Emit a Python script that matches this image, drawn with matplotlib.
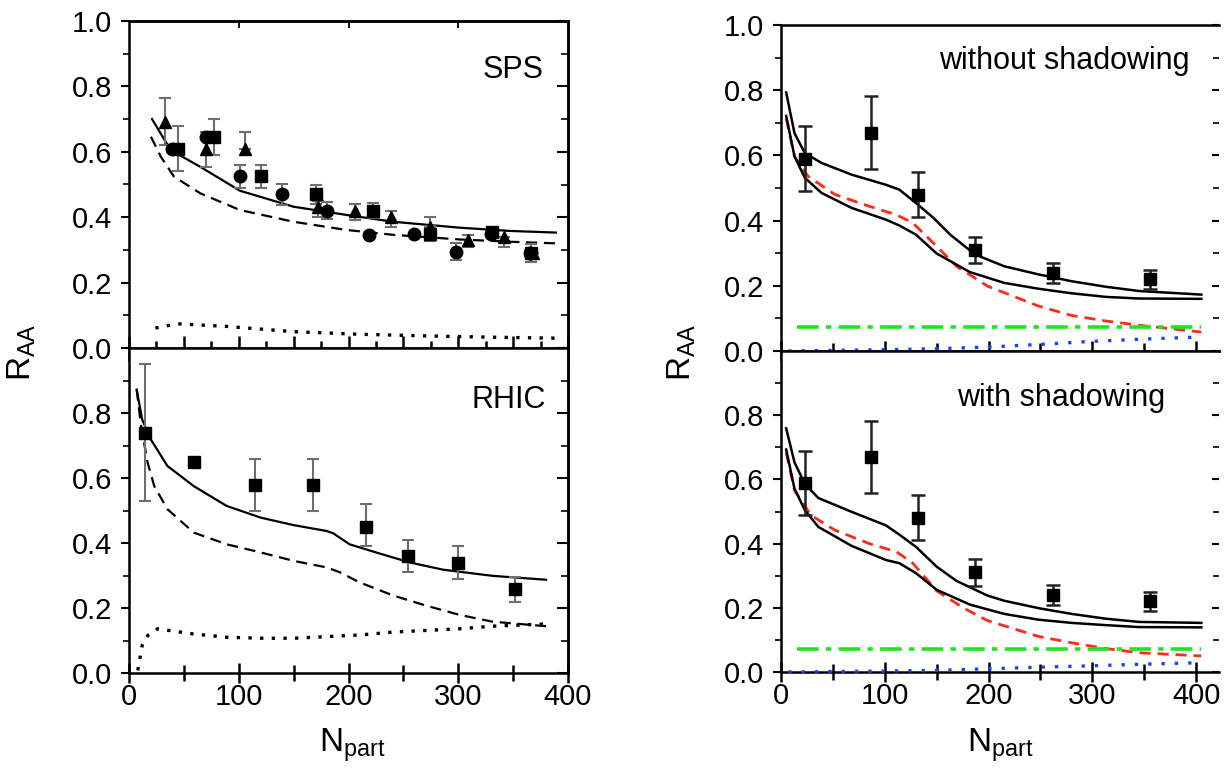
import matplotlib
matplotlib.use('Agg')
import matplotlib.pyplot as plt
from matplotlib.ticker import MultipleLocator, FixedLocator, NullFormatter

plt.rcParams['font.family'] = ['Liberation Sans', 'DejaVu Sans']
plt.rcParams['mathtext.fontset'] = 'custom'
plt.rcParams['mathtext.rm'] = 'Liberation Sans'
plt.rcParams['mathtext.it'] = 'Liberation Sans'

# ---------------- SPS data (top left) ----------------
sps_tri_x = [33, 70, 106, 172, 206, 239, 274, 309, 342, 368]
sps_tri_y = [0.69, 0.61, 0.61, 0.43, 0.42, 0.40, 0.37, 0.33, 0.34, 0.29]
sps_tri_lo = [0.07, 0.055, 0.0, 0.03, 0.03, 0.03, 0.0, 0.02, 0.03, 0.0]
sps_tri_hi = [0.075, 0.05, 0.05, 0.02, 0.02, 0.02, 0.03, 0.015, 0.0, 0.0]

sps_circ_x = [39, 70, 101, 139, 180, 219, 260, 298, 330, 365]
sps_circ_y = [0.61, 0.645, 0.525, 0.47, 0.42, 0.345, 0.35, 0.295, 0.35, 0.29]
sps_circ_err = [0.0, 0.0, 0.035, 0.033, 0.025, 0.0, 0.0, 0.027, 0.0, 0.0]

sps_sq_x = [45, 77, 120, 170, 222, 274, 331, 366]
sps_sq_y = [0.61, 0.645, 0.525, 0.47, 0.42, 0.35, 0.355, 0.29]
sps_sq_err = [0.068, 0.055, 0.035, 0.03, 0.023, 0.022, 0.0, 0.028]

sps_full_x = [21, 38, 65, 101, 150, 198, 241, 301, 347, 389]
sps_full_y = [0.70, 0.605, 0.554, 0.481, 0.432, 0.407, 0.386, 0.368, 0.358, 0.353]
sps_dash_x = [20, 29, 41, 65, 101, 150, 198, 241, 301, 347, 389]
sps_dash_y = [0.646, 0.585, 0.524, 0.473, 0.422, 0.386, 0.361, 0.346, 0.332, 0.325, 0.32]
sps_dot_x = [24, 44, 89, 150, 210, 271, 331, 389]
sps_dot_y = [0.061, 0.074, 0.066, 0.05, 0.042, 0.037, 0.033, 0.03]

# ---------------- RHIC data (bottom left) ----------------
rhic_x = [15, 59, 115, 168, 216, 254, 300, 352]
rhic_y = [0.74, 0.65, 0.58, 0.58, 0.45, 0.36, 0.34, 0.26]
rhic_lo = [0.21, 0.01, 0.08, 0.08, 0.06, 0.05, 0.05, 0.04]
rhic_hi = [0.21, 0.01, 0.08, 0.08, 0.07, 0.05, 0.05, 0.035]

rhic_full_x = [7, 12, 20, 35, 59, 89, 120, 150, 180, 186, 201, 225, 256, 286, 331, 380]
rhic_full_y = [0.872, 0.78, 0.718, 0.637, 0.575, 0.514, 0.478, 0.455, 0.437, 0.43,
               0.396, 0.371, 0.34, 0.318, 0.299, 0.287]
rhic_dash_x = [7, 11, 17, 23, 35, 59, 89, 120, 150, 180, 192, 210, 241, 271, 301, 331, 380]
rhic_dash_y = [0.872, 0.759, 0.647, 0.575, 0.504, 0.432, 0.396, 0.371, 0.345, 0.325,
               0.31, 0.279, 0.238, 0.207, 0.179, 0.158, 0.144]
rhic_dot_x = [8, 12, 17, 26, 59, 89, 120, 150, 180, 210, 241, 271, 301, 331, 380]
rhic_dot_y = [0.008, 0.085, 0.115, 0.136, 0.12, 0.11, 0.107, 0.107, 0.112, 0.117,
              0.126, 0.131, 0.136, 0.144, 0.151]

# ---------------- right panels: data (same in both) ----------------
phenix_x = [23, 87, 132, 187, 262, 356]
phenix_y = [0.59, 0.67, 0.48, 0.31, 0.24, 0.22]
phenix_err = [0.10, 0.112, 0.07, 0.041, 0.03, 0.03]

# without shadowing
ns_up_x = [5, 13, 23, 39, 68, 101, 114, 130, 147, 163, 187, 215, 248, 280, 313, 345, 405]
ns_up_y = [0.793, 0.668, 0.607, 0.577, 0.541, 0.51, 0.495, 0.454, 0.408, 0.357, 0.296,
           0.26, 0.235, 0.214, 0.197, 0.184, 0.173]
ns_lo_x = [5, 13, 23, 39, 68, 101, 114, 130, 150, 182, 215, 248, 280, 313, 345, 405]
ns_lo_y = [0.721, 0.597, 0.531, 0.485, 0.439, 0.403, 0.385, 0.357, 0.299, 0.242, 0.209,
           0.191, 0.177, 0.166, 0.161, 0.16]
ns_red_x = [5, 13, 26, 52, 85, 111, 127, 150, 169, 199, 248, 280, 313, 345, 405]
ns_red_y = [0.714, 0.597, 0.536, 0.48, 0.444, 0.418, 0.393, 0.321, 0.26, 0.199, 0.138,
            0.109, 0.092, 0.079, 0.058]
ns_green_x = [15, 405]
ns_green_y = [0.074, 0.074]
ns_blue_x = [7, 101, 150, 199, 248, 296, 345, 405]
ns_blue_y = [0.0, 0.004, 0.007, 0.012, 0.02, 0.029, 0.036, 0.043]

# with shadowing
ws_up_x = [5, 13, 23, 36, 68, 101, 114, 130, 150, 169, 199, 215, 248, 280, 313, 345, 405]
ws_up_y = [0.759, 0.653, 0.586, 0.542, 0.499, 0.457, 0.428, 0.39, 0.328, 0.284, 0.238,
           0.222, 0.199, 0.181, 0.166, 0.156, 0.153]
ws_lo_x = [5, 13, 23, 36, 68, 101, 114, 130, 150, 182, 215, 248, 280, 313, 345, 405]
ws_lo_y = [0.693, 0.571, 0.504, 0.452, 0.393, 0.349, 0.339, 0.308, 0.256, 0.21, 0.181,
           0.163, 0.153, 0.146, 0.14, 0.139]
ws_red_x = [5, 13, 29, 52, 85, 111, 127, 150, 176, 199, 248, 280, 313, 345, 405]
ws_red_y = [0.684, 0.566, 0.488, 0.442, 0.4, 0.375, 0.339, 0.253, 0.199, 0.16, 0.111,
            0.091, 0.073, 0.06, 0.05]
ws_green_x = [15, 405]
ws_green_y = [0.073, 0.073]
ws_blue_x = [7, 101, 150, 199, 248, 296, 345, 405]
ws_blue_y = [0.0, 0.003, 0.005, 0.01, 0.015, 0.019, 0.024, 0.029]

W, H = 1231, 779
fig = plt.figure(figsize=(W / 100, H / 100), dpi=100)


def box(x0, x1, y0, y1):
    return [x0 / W, 1 - y1 / H, (x1 - x0) / W, (y1 - y0) / H]


ax_sps = fig.add_axes(box(129, 568, 21, 348))
ax_rhic = fig.add_axes(box(129, 568, 348, 673))
ax_ns = fig.add_axes(box(781, 1219, 25, 351))
ax_ws = fig.add_axes(box(781, 1219, 351, 672))

TICK = 21
grey = '#6e6e6e'


def style(ax, top, right_side, xmax):
    ax.set_xlim(0, xmax)
    ax.set_ylim(0, 1.0)
    for s in ax.spines.values():
        s.set_linewidth(1.8)
    ax.yaxis.set_major_locator(FixedLocator([0, 0.2, 0.4, 0.6, 0.8, 1.0] if top
                                            else [0, 0.2, 0.4, 0.6, 0.8]))
    ax.yaxis.set_minor_locator(MultipleLocator(0.1))
    ax.yaxis.set_major_formatter(plt.FuncFormatter(lambda v, p: f'{v:.1f}'))
    ax.tick_params(axis='y', which='major', direction='out', length=6, width=1.5,
                   labelsize=TICK, pad=6, left=True, right=False)
    ax.tick_params(axis='y', which='minor', direction='out', length=4, width=1.2,
                   left=True, right=False)
    # right-hand ticks pointing inwards
    ry = ax.secondary_yaxis('right')
    ry.yaxis.set_major_locator(MultipleLocator(0.2))
    ry.yaxis.set_minor_locator(MultipleLocator(0.1))
    ry.tick_params(which='major', direction='in', length=8 if right_side else 5,
                   width=1.5, labelright=False)
    ry.tick_params(which='minor', direction='in', length=5 if right_side else 4,
                   width=1.2)
    ry.yaxis.set_major_formatter(NullFormatter())
    ry.spines['right'].set_linewidth(1.8)
    if not right_side:
        ry.spines['right'].set_visible(False)
        ax.spines['right'].set_visible(False)
    ax.xaxis.set_major_locator(MultipleLocator(100))
    ax.xaxis.set_minor_locator(MultipleLocator(50))
    ax.tick_params(axis='x', which='both', direction='inout', length=14, width=1.8,
                   labelsize=TICK, pad=0, top=False)
    ax.tick_params(axis='x', which='minor', length=12)
    if top:
        ax.tick_params(axis='x', labelbottom=False)


style(ax_sps, True, True, 400)
style(ax_rhic, False, True, 400)
style(ax_ns, True, False, 422)
style(ax_ws, False, False, 422)

# top-left panel: bottom ticks every 25, top ticks at the hundreds
ax_sps.xaxis.set_major_locator(MultipleLocator(50))
ax_sps.xaxis.set_minor_locator(MultipleLocator(25))
ax_sps.tick_params(axis='x', which='major', length=18)
ax_sps.tick_params(axis='x', which='minor', length=10)
tx = ax_sps.secondary_xaxis('top')
tx.xaxis.set_major_locator(FixedLocator([100, 200, 300]))
tx.tick_params(direction='in', length=5, width=1.3, labeltop=False)
tx.spines['top'].set_linewidth(1.8)

# ---------- SPS ----------
ax = ax_sps
ax.plot(sps_full_x, sps_full_y, color='black', lw=1.6, zorder=3)
ax.plot(sps_dash_x, sps_dash_y, color='black', lw=1.6, ls=(0, (5, 3)), zorder=3)
ax.plot(sps_dot_x, sps_dot_y, color='black', lw=2.4, ls=(0, (1, 2.5)), zorder=3)
ax.errorbar(sps_tri_x, sps_tri_y, yerr=[sps_tri_lo, sps_tri_hi], fmt='^', color='black',
            ms=9, ecolor=grey, elinewidth=1.5, capsize=4, capthick=1.5, zorder=4)
ax.errorbar(sps_circ_x, sps_circ_y, yerr=sps_circ_err, fmt='o', color='black',
            ms=9, ecolor=grey, elinewidth=1.5, capsize=4, capthick=1.5, zorder=4)
ax.errorbar(sps_sq_x, sps_sq_y, yerr=sps_sq_err, fmt='s', color='black',
            ms=8, ecolor=grey, elinewidth=1.5, capsize=4, capthick=1.5, zorder=4)
ax.text(0.945, 0.85, 'SPS', transform=ax.transAxes, ha='right', va='center', fontsize=22)

# ---------- RHIC ----------
ax = ax_rhic
ax.plot(rhic_full_x, rhic_full_y, color='black', lw=1.6, zorder=3)
ax.plot(rhic_dash_x, rhic_dash_y, color='black', lw=1.6, ls=(0, (5, 3)), zorder=3)
ax.plot(rhic_dot_x, rhic_dot_y, color='black', lw=2.4, ls=(0, (1, 2.5)), zorder=3)
ax.errorbar(rhic_x, rhic_y, yerr=[rhic_lo, rhic_hi], fmt='s', color='black',
            ms=8, ecolor=grey, elinewidth=1.5, capsize=4, capthick=1.5, zorder=4)
ax.text(0.95, 0.84, 'RHIC', transform=ax.transAxes, ha='right', va='center', fontsize=22)

# ---------- right panels ----------
for ax, up_x, up_y, lo_x, lo_y, rx, ry_, gx, gy, bx, by, label, lx, ly in [
        (ax_ns, ns_up_x, ns_up_y, ns_lo_x, ns_lo_y, ns_red_x, ns_red_y,
         ns_green_x, ns_green_y, ns_blue_x, ns_blue_y, 'without shadowing', 0.932, 0.89),
        (ax_ws, ws_up_x, ws_up_y, ws_lo_x, ws_lo_y, ws_red_x, ws_red_y,
         ws_green_x, ws_green_y, ws_blue_x, ws_blue_y, 'with shadowing', 0.877, 0.855)]:
    ax.plot(rx, ry_, color='#ff2a1a', lw=2.0, ls=(0, (4, 2.5)), zorder=3)
    ax.plot(up_x, up_y, color='black', lw=1.8, zorder=3)
    ax.plot(lo_x, lo_y, color='black', lw=1.8, zorder=3)
    ax.plot(gx, gy, color='#1ee61e', lw=2.6, ls=(0, (6, 2, 1.5, 2)), zorder=3)
    ax.plot(bx, by, color='#1f3fff', lw=2.4, ls=(0, (1, 3)), zorder=5, clip_on=False)
    ax.errorbar(phenix_x, phenix_y, yerr=phenix_err, fmt='s', color='black', ms=8,
                ecolor='#222222', elinewidth=1.8, capsize=5, capthick=1.8, zorder=4)
    ax.text(lx, ly, label, transform=ax.transAxes, ha='right', va='center',
            fontsize=22)

# axis labels
for x in (22, 682):
    fig.text(x / W, 1 - 352 / H, r'$\mathregular{R_{AA}}$', rotation=90,
             ha='center', va='center', fontsize=24)
for x in (352, 1000):
    fig.text(x / W, 1 - 745 / H, r'$\mathregular{N_{part}}$',
             ha='center', va='center', fontsize=24)

fig.savefig('out.png', dpi=100)
